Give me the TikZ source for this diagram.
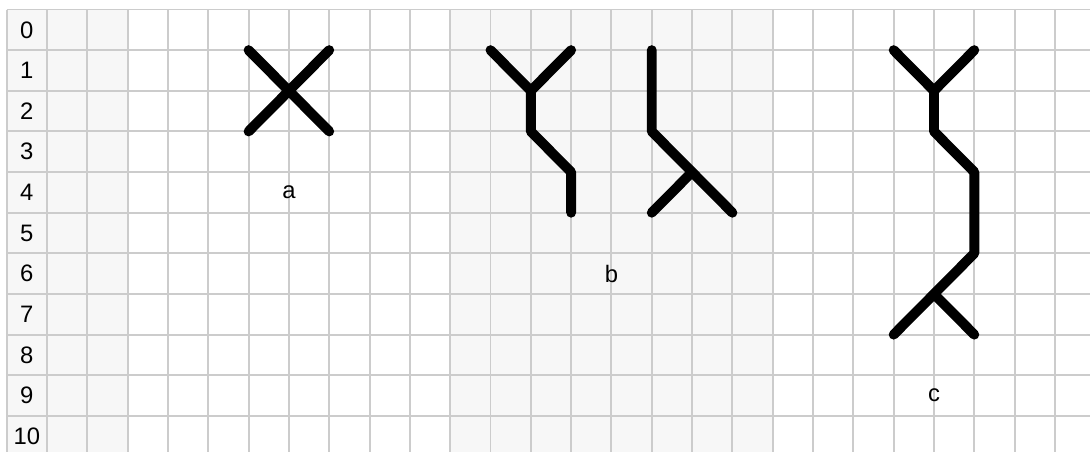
\documentclass[tikz,border=0pt]{standalone}
\usepackage{fontspec}
\setmainfont{Liberation Sans}

\begin{document}
\begin{tikzpicture}[x=1cm, y=-1.008cm, font=\fontsize{16.8}{20}\selectfont,
  gridline/.style={draw=black!20, line width=1.4pt},
  shadecol/.style={fill=black!3},
  stroke/.style={line width=7pt, line cap=round, line join=round},
  lbl/.style={inner sep=0pt}]
\useasboundingbox (-1.166,-0.234) rectangle (25.87,10.886);
\fill[white] (-1.166,-0.234) rectangle (25.87,10.886);
% shaded columns
\fill[shadecol] (-1,0) rectangle (2,10.886);
\fill[shadecol] (10,0) rectangle (18,10.886);
% grid
\foreach \i in {-1,...,25} \draw[gridline] (\i,0) -- (\i,10.886);
\foreach \j in {0,...,10} \draw[gridline] (-1,\j) -- (25.87,\j);
% row numbers
\foreach \j in {0,...,10} \node[lbl] (row\j) at (-0.5,\j+0.5) {\j};

% a
\coordinate (across) at (6,2);
\draw[stroke] (5,1) -- (across) -- (7,3) (7,1) -- (across) -- (5,3);
\node[lbl] (la) at (6,4.5) {a};

% b
\coordinate (bfork) at (12,2);
\coordinate (bsplit) at (16,4);
\draw[stroke] (11,1) -- (bfork) -- (13,1) (bfork) -- (12,3) -- (13,4) -- (13,5);
\draw[stroke] (15,1) -- (15,3) -- (bsplit) -- (17,5) (bsplit) -- (15,5);
\node[lbl] (lb) at (14,6.5) {b};

% c
\coordinate (cfork) at (22,2);
\coordinate (csplit) at (22,7);
\draw[stroke] (21,1) -- (cfork) -- (23,1) (cfork) -- (22,3) -- (23,4) -- (23,6) -- (csplit) -- (21,8) (csplit) -- (23,8);
\node[lbl] (lc) at (22,9.5) {c};
\end{tikzpicture}
\end{document}
